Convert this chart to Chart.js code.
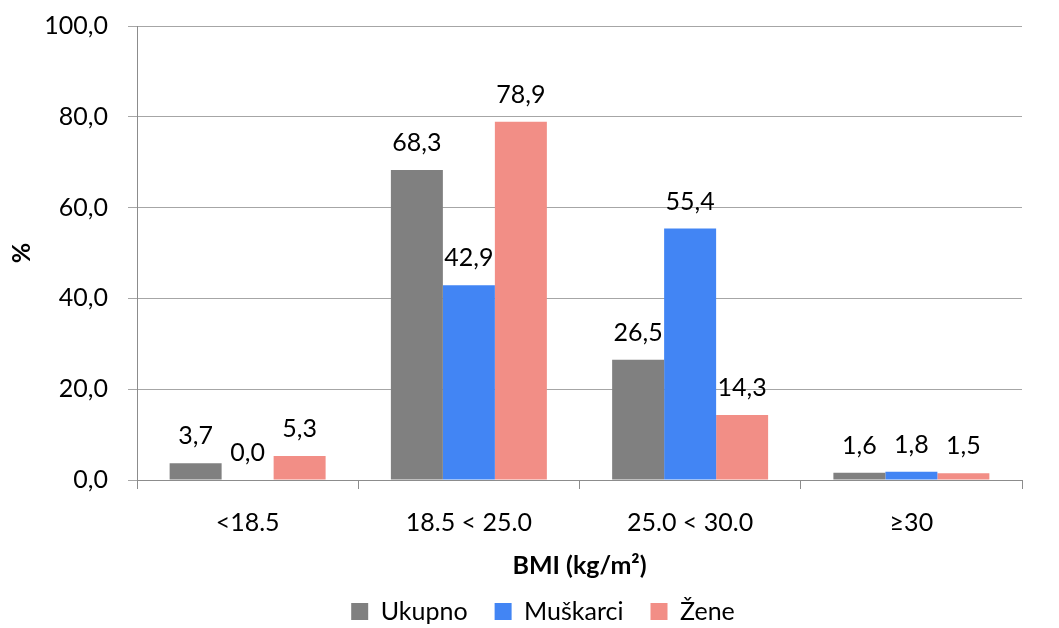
<!DOCTYPE html>
<html>
<head>
<meta charset="utf-8">
<script src="https://cdn.jsdelivr.net/npm/chart.js@4"></script>
<style>
  html, body { margin: 0; padding: 0; background: #fff; }
  #wrap { width: 1059px; height: 628px; }
</style>
</head>
<body>
<div id="wrap"><canvas id="bmiChart"></canvas></div>
<script>
// ---------- DATA ----------
const categories = ["<18.5", "18.5 < 25.0", "25.0 < 30.0", "≥30"];
const ukupno = [3.7, 68.3, 26.5, 1.6];
const muskarci = [0.0, 42.9, 55.4, 1.8];
const zene = [5.3, 78.9, 14.3, 1.5];
const seriesNames = ["Ukupno", "Muškarci", "Žene"];
const yTicks = [0, 20, 40, 60, 80, 100];

const FONT = "Lato, 'Open Sans', sans-serif";

function fmt(v) {
  return Number(v).toFixed(1).replace(".", ",");
}

// ---------- VALUE LABELS ABOVE BARS ----------
const valueLabels = {
  id: "valueLabels",
  afterDatasetsDraw(chart) {
    const ctx = chart.ctx;
    ctx.save();
    ctx.font = "25px " + FONT;
    ctx.fillStyle = "#000";
    ctx.textAlign = "center";
    ctx.textBaseline = "middle";
    chart.data.datasets.forEach((ds, i) => {
      chart.getDatasetMeta(i).data.forEach((bar, j) => {
        ctx.fillText(fmt(ds.data[j]), bar.x, bar.y - 27);
      });
    });
    ctx.restore();
  },
};

// legend sits a bit right of the page centre in the original
const legendShift = {
  id: "legendShift",
  afterLayout(chart) {
    chart.legend.left += 32;
    chart.legend.right += 32;
  },
};

new Chart(document.getElementById("bmiChart"), {
  type: "bar",
  data: {
    labels: categories,
    datasets: [
      { label: seriesNames[0], data: ukupno, backgroundColor: "#808080" },
      { label: seriesNames[1], data: muskarci, backgroundColor: "#4285F4" },
      { label: seriesNames[2], data: zene, backgroundColor: "#F28E86" },
    ],
  },
  options: {
    responsive: true,
    maintainAspectRatio: false,
    animation: false,
    datasets: {
      bar: { categoryPercentage: 0.705, barPercentage: 1.0 },
    },
    layout: { padding: { top: 26, right: 37, left: 0, bottom: -6 } },
    plugins: {
      legend: {
        position: "bottom",
        labels: {
          font: { family: FONT, size: 25 },
          color: "#000",
          boxWidth: 17,
          boxHeight: 17,
          padding: 27,
        },
      },
      tooltip: { enabled: false },
    },
    scales: {
      x: {
        afterFit(scale) {
          scale.height = 92;
          scale.paddingLeft = 0;
          scale.paddingRight = 0;
        },
        grid: {
          offset: true,
          drawOnChartArea: false,
          drawTicks: true,
          tickLength: 9,
          color: "#8c8c8c",
        },
        border: { color: "#8c8c8c" },
        ticks: { font: { family: FONT, size: 25 }, color: "#000", padding: 19 },
        title: {
          display: true,
          text: "BMI (kg/m²)",
          font: { family: FONT, size: 25, weight: "bold" },
          color: "#000",
          padding: { top: 0, bottom: -9 },
        },
      },
      y: {
        min: 0,
        max: 100,
        afterFit(scale) {
          scale.width = 137;
          scale.paddingTop = 0;
          scale.paddingBottom = 0;
        },
        afterBuildTicks(scale) { scale.ticks = yTicks.map(v => ({ value: v })); },
        grid: { color: "#a6a6a6", tickLength: 9 },
        border: { color: "#8c8c8c" },
        ticks: {
          font: { family: FONT, size: 25 },
          color: "#000",
          padding: 20,
          callback: v => fmt(v),
        },
        title: {
          display: true,
          text: "%",
          font: { family: FONT, size: 25, weight: "bold" },
          color: "#000",
          padding: { top: 7, bottom: 0 },
        },
      },
    },
  },
  plugins: [valueLabels, legendShift],
});
</script>
</body>
</html>
